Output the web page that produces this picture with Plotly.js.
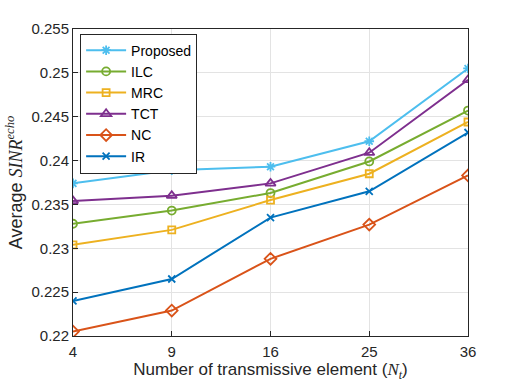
<!DOCTYPE html>
<html>
<head>
<meta charset="utf-8">
<script src="https://cdn.plot.ly/plotly-3.0.1.min.js"></script>
<style>
  html, body { margin: 0; padding: 0; background: #fff; }
  #chart { width: 518px; height: 389px; }
</style>
</head>
<body>
<div id="chart"></div>
<script>
// number of transmissive elements, drawn as evenly spaced categories
const elements = ["4", "9", "16", "25", "36"];

const proposed = [0.2374, 0.2389, 0.2393, 0.2422, 0.2505];
const ilc      = [0.2328, 0.2343, 0.2363, 0.2399, 0.2457];
const mrc      = [0.2304, 0.2321, 0.2355, 0.2385, 0.2444];
const tct      = [0.2354, 0.2360, 0.2374, 0.2409, 0.2492];
const nc       = [0.2205, 0.2229, 0.2288, 0.2327, 0.2383];
const ir       = [0.2240, 0.2265, 0.2335, 0.2365, 0.2432];

const y_ticks = [0.22, 0.225, 0.23, 0.235, 0.24, 0.245, 0.25, 0.255];
const y_labels = ["0.22", "0.225", "0.23", "0.235", "0.24", "0.245", "0.25", "0.255"];

function series(name, y, color, symbol, size) {
    return {
        type: "scatter",
        mode: "lines+markers",
        name: name,
        x: elements,
        y: y,
        line: { color: color, width: 2 },
        marker: { symbol: symbol, size: size, color: color, line: { color: color, width: 1.8 } },
    };
}

const data = [
    series("Proposed", proposed, "#4DBEEE", "asterisk-open", 8),
    series("ILC", ilc, "#77AC30", "circle-open", 8),
    series("MRC", mrc, "#EDB120", "square-open", 7),
    series("TCT", tct, "#7E2F8E", "triangle-up-open", 9),
    series("NC", nc, "#D95319", "diamond-open", 9),
    series("IR", ir, "#0072BD", "x-thin-open", 7),
];

const axis_common = {
    showline: true,
    mirror: true,
    linecolor: "#262626",
    linewidth: 1,
    showgrid: true,
    gridcolor: "#e3e3e3",
    gridwidth: 1,
    ticks: "inside",
    ticklen: 5,
    tickcolor: "#262626",
    zeroline: false,
    tickfont: { family: "Liberation Sans, Arial", size: 15, color: "#262626" },
};

const layout = {
    width: 518,
    height: 389,
    margin: { l: 73, r: 50, t: 29, b: 53 },
    paper_bgcolor: "#ffffff",
    plot_bgcolor: "#ffffff",
    font: { family: "Liberation Sans, Arial", color: "#262626" },
    xaxis: Object.assign({}, axis_common, {
        type: "category",
        range: [0, 4],
        ticklabelstandoff: 2,
        title: {
            text: "Number of transmissive element (<i><span style=\"font-family:Liberation Serif\">N<sub>t</sub></span></i>)",
            font: { family: "Liberation Sans, Arial", size: 17, color: "#262626" },
            standoff: 4,
        },
    }),
    yaxis: Object.assign({}, axis_common, {
        range: [0.22, 0.255],
        tickvals: y_ticks,
        ticktext: y_labels,
        title: {
            text: "Average <span style=\"font-family:Liberation Serif\"><i>SINR</i><sup><i>echo</i></sup></span>",
            font: { family: "Liberation Sans, Arial", size: 18, color: "#262626" },
            standoff: 4,
        },
    }),
    showlegend: true,
    legend: {
        x: 0.018,
        y: 0.985,
        xanchor: "left",
        yanchor: "top",
        bgcolor: "#ffffff",
        bordercolor: "#262626",
        borderwidth: 1,
        font: { family: "Liberation Sans, Arial", size: 14, color: "#000000" },
        tracegroupgap: 0,
        itemwidth: 40,
    },
};

Plotly.newPlot("chart", data, layout, { displayModeBar: false, staticPlot: true });
</script>
</body>
</html>
